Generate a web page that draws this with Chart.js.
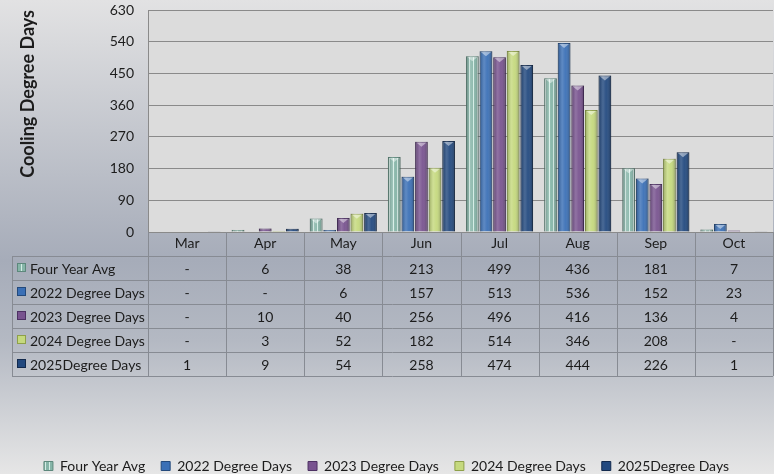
<!DOCTYPE html>
<html>
<head>
<meta charset="utf-8">
<script src="https://cdn.jsdelivr.net/npm/chart.js@4.4.1/dist/chart.umd.min.js"></script>
<style>
  html, body { margin: 0; padding: 0; background: #e4e4e4; }
  #wrap { width: 774px; height: 474px; }
</style>
</head>
<body>
<div id="wrap"><canvas id="cdd" width="774" height="474"></canvas></div>
<script>
// data (null = "-")
const months = ["Mar", "Apr", "May", "Jun", "Jul", "Aug", "Sep", "Oct"];
const fourYearAvg = [null, 6, 38, 213, 499, 436, 181, 7];
const dd2022 = [null, null, 6, 157, 513, 536, 152, 23];
const dd2023 = [null, 10, 40, 256, 496, 416, 136, 4];
const dd2024 = [null, 3, 52, 182, 514, 346, 208, null];
const dd2025 = [1, 9, 54, 258, 474, 444, 226, 1];
const seriesNames = ["Four Year Avg", "2022 Degree Days", "2023 Degree Days", "2024 Degree Days", "2025Degree Days"];
const yMax = 630, yStep = 90;

const FONT = "Lato, 'Open Sans', sans-serif";
const canvas = document.getElementById("cdd");
const ctx = canvas.getContext("2d");

// striped fill for the average series
function stripes() {
    const c = document.createElement("canvas");
    c.width = 4; c.height = 4;
    const g = c.getContext("2d");
    g.fillStyle = "#86b5a8";
    g.fillRect(0, 0, 4, 4);
    g.fillStyle = "#d4ece5";
    g.fillRect(1, 0, 1, 4);
    return ctx.createPattern(c, "repeat");
}

const fills = [stripes(), "#3b70b6", "#78538f", "#c5d97e", "#22497f"];
const edges = ["#5d887c", "#244a7c", "#4d3163", "#8ea049", "#122a4e"];
const allData = [fourYearAvg, dd2022, dd2023, dd2024, dd2025];

const backdrop = {
    id: "backdrop",
    beforeDraw(chart) {
        const c = chart.ctx, a = chart.chartArea;
        const g = c.createLinearGradient(0, 0, 0, chart.height);
        g.addColorStop(0, "#e2e2e3");
        g.addColorStop(0.55, "#a6acb9");
        g.addColorStop(0.72, "#b4b9c3");
        g.addColorStop(1, "#e6e6e6");
        c.save();
        c.fillStyle = g;
        c.fillRect(0, 0, chart.width, chart.height);
        c.fillStyle = "#dcdcdc";
        c.fillRect(a.left, a.top, a.right - a.left, a.bottom - a.top);
        c.restore();
    }
};

// shading + cap on each bar so it looks like the 3D-ish office bars
const sheen = {
    id: "sheen",
    afterDatasetsDraw(chart) {
        const c = chart.ctx;
        c.save();
        chart.data.datasets.forEach((ds, di) => {
            chart.getDatasetMeta(di).data.forEach((bar, i) => {
                if (ds.data[i] == null) return;
                const l = bar.x - bar.width / 2, r = bar.x + bar.width / 2;
                const top = Math.min(bar.y, bar.base), h = Math.abs(bar.base - bar.y);
                if (h < 1) return;
                const g = c.createLinearGradient(l, 0, r, 0);
                g.addColorStop(0, "rgba(0,0,0,0.22)");
                g.addColorStop(0.35, "rgba(255,255,255,0.18)");
                g.addColorStop(0.6, "rgba(255,255,255,0.05)");
                g.addColorStop(1, "rgba(0,0,0,0.28)");
                c.fillStyle = g;
                c.fillRect(l, top, r - l, h);
                if (h > 4) {
                    c.fillStyle = "rgba(255,255,255,0.45)";
                    c.beginPath();
                    c.moveTo(l + 1.5, top + 1);
                    c.lineTo(r - 1.5, top + 1);
                    c.lineTo(bar.x, top + 5);
                    c.closePath();
                    c.fill();
                }
            });
        });
        c.restore();
    }
};

// data table under the plot, columns follow the x scale
const dataTable = {
    id: "dataTable",
    afterDraw(chart) {
        const c = chart.ctx, xs = chart.scales.x, a = chart.chartArea;
        const tableLeft = 12, headTop = a.bottom, rowTop = a.bottom + 24, rowH = 24;
        const bottom = rowTop + rowH * seriesNames.length;
        const step = xs.getPixelForValue(1) - xs.getPixelForValue(0);
        c.save();
        c.strokeStyle = "#878b93";
        c.lineWidth = 1;
        c.beginPath();
        // horizontals
        for (let r = 0; r <= seriesNames.length; r++) {
            const y = Math.round(rowTop + r * rowH) + 0.5;
            c.moveTo(tableLeft, y);
            c.lineTo(a.right, y);
        }
        // verticals
        c.moveTo(tableLeft + 0.5, rowTop);
        c.lineTo(tableLeft + 0.5, bottom);
        for (let i = 0; i <= months.length; i++) {
            const x = Math.round(xs.getPixelForValue(i) - step / 2) + 0.5;
            c.moveTo(x, headTop);
            c.lineTo(x, bottom);
        }
        c.stroke();

        c.font = "14px " + FONT;
        c.textBaseline = "middle";
        seriesNames.forEach((name, r) => {
            const cy = rowTop + r * rowH + rowH / 2;
            c.fillStyle = fills[r];
            c.fillRect(17, cy - 5, 9, 9);
            c.strokeStyle = edges[r];
            c.strokeRect(17.5, cy - 4.5, 8, 8);
            c.fillStyle = "#1c1c1c";
            c.textAlign = "left";
            c.fillText(name, 30, cy + 1);
            c.textAlign = "center";
            allData[r].forEach((v, i) => {
                c.fillText(v == null ? "-" : String(v), xs.getPixelForValue(i), cy + 1);
            });
        });
        c.restore();
    }
};

new Chart(ctx, {
    type: "bar",
    data: {
        labels: months,
        datasets: seriesNames.map((name, k) => ({
            label: name,
            data: allData[k],
            backgroundColor: fills[k],
            borderColor: edges[k],
            borderWidth: 1
        }))
    },
    options: {
        responsive: false,
        animation: false,
        devicePixelRatio: 1,
        layout: { padding: { top: 10, right: 1, left: 0, bottom: -9 } },
        datasets: { bar: { categoryPercentage: 0.87, barPercentage: 0.93 } },
        plugins: {
            legend: {
                position: "bottom",
                labels: {
                    boxWidth: 9, boxHeight: 9, padding: 16,
                    color: "#1c1c1c",
                    font: { family: FONT, size: 14 }
                }
            },
            tooltip: { enabled: false }
        },
        scales: {
            x: {
                grid: { display: false, drawTicks: false },
                border: { display: false },
                ticks: { color: "#1c1c1c", padding: 3, font: { family: FONT, size: 14 } },
                afterFit(s) { s.height = 211; }
            },
            y: {
                min: 0, max: yMax,
                grid: { color: "#8a8a8a", drawTicks: true, tickLength: 14, tickColor: "rgba(0,0,0,0)" },
                border: { display: true, color: "#8a8a8a" },
                ticks: { stepSize: yStep, color: "#1c1c1c", padding: 0, font: { family: FONT, size: 14 } },
                title: {
                    display: true, text: "Cooling Degree Days", align: "end",
                    color: "#1c1c1c", padding: { top: 17 },
                    font: { family: FONT, size: 18, weight: "bold" }
                },
                afterFit(s) { s.width = 148; }
            }
        }
    },
    plugins: [backdrop, sheen, dataTable]
});
</script>
</body>
</html>
